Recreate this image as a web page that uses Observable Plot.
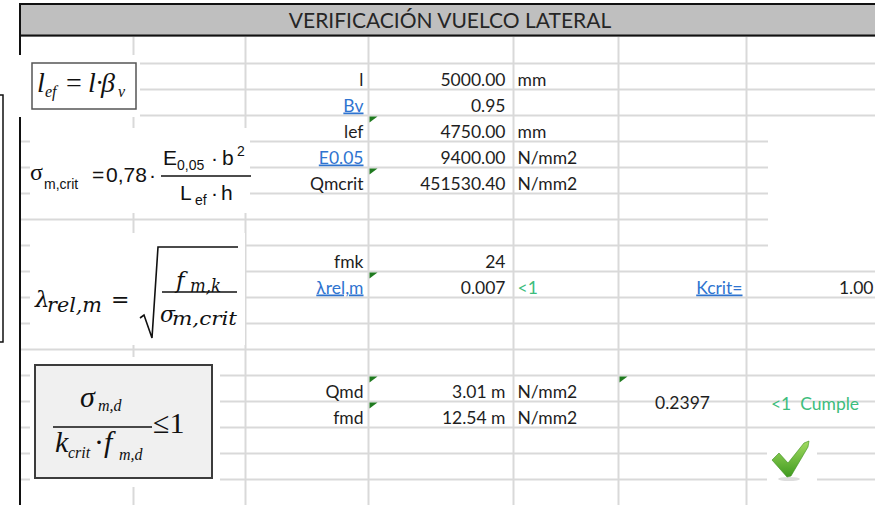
<!DOCTYPE html>
<html><head><meta charset="utf-8">
<script src="https://cdn.jsdelivr.net/npm/d3@7"></script>
<script src="https://cdn.jsdelivr.net/npm/@observablehq/plot@0.6"></script>
<style>
body{margin:0;background:#fff}
svg{display:block}
svg text{white-space:pre}
</style>
</head><body><div id="chart"></div>
<script>
// ---- sheet content ----
const title = "VERIFICACIÓN VUELCO LATERAL";
const columns = ["A","B","C","D","E","F","G"];
const labels = ["l","Bv","lef","E0.05","Qmcrit","fmk","λrel,m","Qmd","fmd"];
const labelRows = [1,2,3,4,5,8,9,13,14];
const values = ["5000.00","0.95","4750.00","9400.00","451530.40","24","0.007","3.01 m","12.54 m"];
const units = ["mm","","mm","N/mm2","N/mm2","","<1","N/mm2","N/mm2"];
const linkedLabels = ["Bv","E0.05","λrel,m","Kcrit="];
const commentedLabels = ["lef","Qmcrit","λrel,m","Qmd","fmd"];
const kcritLabel = "Kcrit=";
const kcritValue = "1.00";
const kcritRow = 9;
const ratioValue = "0.2397";
const verdict = "<1  Cumple";
const checkRows = [13,14];

const rows = labels.map((l,i)=>({label:l,row:labelRows[i],value:values[i],unit:units[i]}));
const comments = [...rows.filter(d=>commentedLabels.includes(d.label)).map(d=>({col:3,row:d.row})), {col:5,row:checkRows[0]}];

const cellFont = "Lato";
const cellSize = 17.5;
const ink = "#1e1e1e", blue = "#2f74d0", green = "#3dbd7d", gridC = "#d9d9d9";

const commentSymbol = {draw(ctx){ctx.moveTo(1,1);ctx.lineTo(9,1);ctx.lineTo(1,7);ctx.closePath();}};

function decorations(index, {x, y}) {
  const g = d3.create("svg:g").attr("text-anchor","start");
  const P = (c, r, dx, dy) => [x(c)+dx, y(r)+dy];
  const cover = (c,r,dx0,dy0,dx1,dy1) => { const [a,b]=P(c,r,dx0,dy0), [e,f]=P(c,r,dx1,dy1); g.append("rect").attr("x",a).attr("y",b).attr("width",e-a).attr("height",f-b).attr("fill","#fff"); };
  const T = (s,c,r,dx,dy,size,fam,style,len) => { const [px,py]=P(c,r,dx,dy); const t=g.append("text").attr("x",px).attr("y",py).attr("text-anchor","start").attr("font-size",size).attr("font-family",fam).attr("font-style",style||"normal").attr("fill","#111").text(s); if(len) t.attr("textLength",len).attr("lengthAdjust","spacingAndGlyphs"); return t; };
  const L = (c,r,pts,w) => g.append("path").attr("d","M"+pts.map(([dx,dy])=>P(c,r,dx,dy).join(",")).join("L")).attr("fill","none").attr("stroke","#111").attr("stroke-width",w||1.5);

  // covers (embedded formula pictures)
  cover(0,1,-4,-8,121,54);
  cover(0,4,11,-13,231,72);
  cover(0,8,11,-12,226,100);
  cover(0,12,11,8,201,138);
  cover(6,3,22,2,129,154);
  cover(6,15,21,3,71,63);

  // small box at far left
  L(0,2,[[-19,6],[-16,6],[-16,253],[-19,253]],1.5);

  const serif = "Liberation Serif", sans = "Liberation Sans", math = "DejaVu Serif";
  // F1: l_ef = l·β_v
  { const [a,b]=P(0,1,13,0), [e,f]=P(0,1,117,46);
    g.append("rect").attr("x",a).attr("y",b).attr("width",e-a).attr("height",f-b).attr("fill","#fff").attr("stroke","#555").attr("stroke-width",1.5); }
  T("l",0,1,18,29,28,serif,"italic");
  T("ef",0,1,26,34,16,serif,"italic");
  T("=",0,1,47,29,28,serif);
  T("l",0,1,69,29,28,serif,"italic");
  T("·",0,1,76,29,28,serif);
  T("β",0,1,82,29,28,serif,"italic");
  T("v",0,1,99,34,16,serif,"italic");

  // F2: sigma_m,crit = 0,78 · E0,05·b² / Lef·h
  T("σ",0,4,11,39,24,serif);
  T("m,crit",0,4,25,48,14,sans);
  T("=",0,4,73,41,21,sans);
  T("0,78",0,4,87,41,21,sans);
  T("·",0,4,130,41,21,sans);
  L(0,4,[[142,35],[232,35]],1.6);
  T("E",0,4,144,24,21,sans);
  T("0,05",0,4,158,29,14,sans);
  T("·",0,4,192,24,21,sans);
  T("b",0,4,203,24,21,sans);
  T("2",0,4,218,15,14,sans);
  T("L",0,4,161,59,21,sans);
  T("ef",0,4,176,64,14,sans);
  T("·",0,4,192,59,21,sans);
  T("h",0,4,202,59,21,sans);

  // F3: lambda_rel,m = sqrt(f_m,k / sigma_m,crit)
  T("λ",0,8,16,62,23,math,"italic");
  T("rel,m",0,8,28,67,21,math,"italic",55);
  T("=",0,8,92,62,22,math);
  L(0,8,[[121,73],[125,70],[133,93],[139,2],[219,2]],1.6);
  L(0,8,[[143,47],[218,47]],1.6);
  T("f",0,8,157,43,23,math,"italic");
  T("m,k",0,8,171,47,18,math,"italic",31);
  T("σ",0,8,141,77,22,math,"italic");
  T("m,crit",0,8,153,80,18,math,"italic",65);

  // F4: sigma_m,d / (k_crit · f_m,d) <= 1
  { const [a,b]=P(0,12,16,16), [e,f]=P(0,12,193,129);
    g.append("rect").attr("x",a).attr("y",b).attr("width",e-a).attr("height",f-b).attr("fill","#f0f0f0").attr("stroke","#3c3c3c").attr("stroke-width",2); }
  T("σ",0,12,61,58,30,serif,"italic");
  T("m,d",0,12,79,62,16,serif,"italic");
  L(0,12,[[34,78],[133,78]],1.5);
  T("k",0,12,36,103,30,serif,"italic");
  T("crit",0,12,49,109,16,serif,"italic");
  T("·",0,12,75,103,30,serif);
  T("f",0,12,85,103,30,serif,"italic");
  T("m,d",0,12,100,111,16,serif,"italic");
  T("≤1",0,12,134,84,30,serif);

  // check mark
  const defs = g.append("defs");
  const lg = defs.append("linearGradient").attr("id","chk").attr("x1",0).attr("y1",0).attr("x2",0).attr("y2",1);
  lg.append("stop").attr("offset","0%").attr("stop-color","#a3dc62");
  lg.append("stop").attr("offset","100%").attr("stop-color","#3f9a1f");
  { const [cx,cy]=P(6,15,43,52); g.append("ellipse").attr("cx",cx).attr("cy",cy).attr("rx",11).attr("ry",2).attr("fill","#bbb").attr("opacity",0.5); }
  const pts = [[26,33],[33,26],[42,36],[58,16],[63,14],[62,20],[45,49],[41,50]];
  g.append("path").attr("d","M"+pts.map(([dx,dy])=>P(6,15,dx,dy).join(",")).join("L")+"Z").attr("fill","url(#chk)").attr("stroke","#3a8f1c").attr("stroke-width",0.6);
  return g.node();
}

const plot = Plot.plot({
  width: 875, height: 505,
  margin: 0,
  style: {background: "#fff", overflow: "visible"},
  x: {type: "linear", domain: [0,1,2,3,4,5,6,7], range: [19,133,245,368,513,618,746,875], axis: null},
  y: {type: "linear", domain: [-1,0,18], range: [3,37,505], axis: null},
  marks: [
    Plot.ruleX(d3.range(1, columns.length), {y1: 0, y2: 18, stroke: gridC, strokeWidth: 2}),
    Plot.ruleY(d3.range(1, 18), {x1: 0, x2: columns.length, stroke: gridC, strokeWidth: 2}),
    Plot.rect([title], {x1: 0, x2: columns.length, y1: -1, y2: 0, fill: "#bfbfbf"}),
    Plot.ruleY([-1], {x1: 0, x2: columns.length, stroke: "#111", strokeWidth: 2, dy: 0.5}),
    Plot.ruleY([0], {x1: 0, x2: columns.length, stroke: "#111", strokeWidth: 2, dy: -2}),
    Plot.ruleX([0], {y1: -1, y2: 18, stroke: "#111", strokeWidth: 2, dx: 0.5}),
    Plot.text([title], {x: columns.length/2, y: -0.5, text: d=>d, fontFamily: cellFont, fontSize: 21, fill: "#262626", dx: 9, dy: 1}),
    decorations,
    Plot.text(rows, {x: 3, y: d=>d.row+1, text: "label", textAnchor: "end", lineAnchor: "bottom", dx: -5, dy: -4, fontFamily: cellFont, fontSize: cellSize, fill: d=>linkedLabels.includes(d.label)?blue:ink}),
    Plot.text(rows, {x: 4, y: d=>d.row+1, text: "value", textAnchor: "end", lineAnchor: "bottom", dx: -8, dy: -4, fontFamily: cellFont, fontSize: cellSize, fill: ink}),
    Plot.text(rows, {x: 4, y: d=>d.row+1, text: "unit", textAnchor: "start", lineAnchor: "bottom", dx: 4, dy: -4, fontFamily: cellFont, fontSize: cellSize, fill: d=>d.unit.startsWith("<")?green:ink}),
    Plot.text([kcritLabel], {x: 6, y: kcritRow+1, text: d=>d, textAnchor: "end", lineAnchor: "bottom", dx: -4, dy: -4, fontFamily: cellFont, fontSize: cellSize, fill: blue}),
    Plot.text([kcritValue], {x: 7, y: kcritRow+1, text: d=>d, textAnchor: "end", lineAnchor: "bottom", dx: -2, dy: -4, fontFamily: cellFont, fontSize: cellSize, fill: ink}),
    Plot.text([ratioValue], {x: 5.5, y: checkRows[1], text: d=>d, textAnchor: "middle", lineAnchor: "bottom", dy: 7, fontFamily: cellFont, fontSize: cellSize, fill: ink}),
    Plot.text([verdict], {x: 6.5, y: checkRows[1], text: d=>d, textAnchor: "middle", lineAnchor: "bottom", dx: 4, dy: 8, fontFamily: cellFont, fontSize: cellSize, fill: green}),
    Plot.dot(comments, {x: "col", y: "row", symbol: commentSymbol, fill: "#1f7a1f", r: 4})
  ]
});
d3.select(plot).selectAll("text").filter(function(){return linkedLabels.includes(this.textContent);}).style("text-decoration","underline");
document.getElementById("chart").appendChild(plot);
</script>
</body></html>
